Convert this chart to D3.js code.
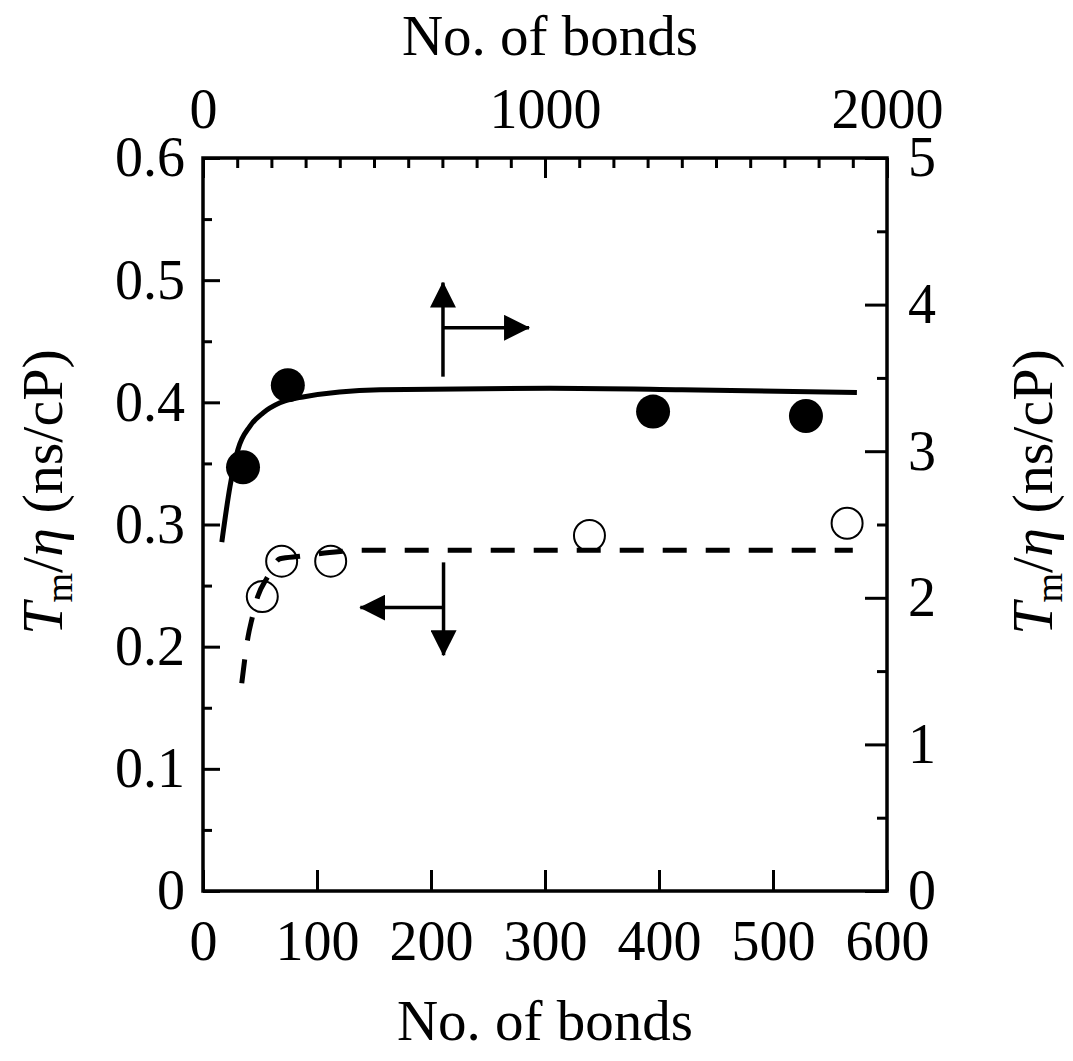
<!DOCTYPE html>
<html>
<head>
<meta charset="utf-8">
<script src="https://cdn.jsdelivr.net/npm/d3@7"></script>
<style>
  body { margin: 0; background: #fff; }
  text { font-family: 'Liberation Serif', 'Times New Roman', serif; fill: #000; }
</style>
</head>
<body>
<svg width="1073" height="1061"></svg>
<script>
// open circles: bottom axis (0-600) vs left axis
const openX = [52, 69, 112, 339, 565]
const openY = [0.241, 0.270, 0.270, 0.291, 0.301]
// filled circles: top axis (0-2000) vs right axis
const fillX = [117, 248, 1316, 1763]
const fillY = [2.89, 3.45, 3.27, 3.24]
// fitted curves
const solidX = [55, 79, 102, 137, 175, 225, 292, 518, 1015, 1400, 1912]
const solidY = [2.38, 2.76, 3.01, 3.17, 3.26, 3.33, 3.37, 3.42, 3.43, 3.42, 3.40]
const dashX = [34, 39.5, 43, 48, 56, 67.5, 85, 111, 139, 350, 570]
const dashY = [0.170, 0.208, 0.223, 0.241, 0.256, 0.272, 0.274, 0.277, 0.279, 0.279, 0.279]

const bottomTicks = [0, 100, 200, 300, 400, 500, 600]
const topTicks = [0, 1000, 2000]
const leftTicks = [0, 0.1, 0.2, 0.3, 0.4, 0.5, 0.6]
const rightTicks = [0, 1, 2, 3, 4, 5]

const svg = d3.select('svg')
const margin = {top: 158, right: 186, bottom: 170, left: 203}
const width = +svg.attr('width') - margin.left - margin.right
const height = +svg.attr('height') - margin.top - margin.bottom
const g = svg.append('g').attr('transform', `translate(${margin.left},${margin.top})`)

const xB = d3.scaleLinear().domain([0, 600]).range([0, width])
const xT = d3.scaleLinear().domain([0, 2000]).range([0, width])
const yL = d3.scaleLinear().domain([0, 0.6]).range([height, 0])
const yR = d3.scaleLinear().domain([0, 5]).range([height, 0])

const fs = 56

function style(sel) {
  sel.select('.domain').remove()
  sel.selectAll('line').attr('stroke', '#000').attr('stroke-width', 3)
  sel.selectAll('text').style('font-size', fs + 'px').attr('fill', '#000')
}

// minor ticks
g.append('g').call(d3.axisLeft(yL).tickValues(d3.range(0.05, 0.6, 0.1)).tickSize(-9).tickFormat('')).call(style)
g.append('g').attr('transform', `translate(${width},0)`)
  .call(d3.axisRight(yR).tickValues(d3.range(0.5, 5, 1)).tickSize(-10).tickFormat('')).call(style)
g.append('g').call(d3.axisTop(xT).tickValues(d3.range(100, 2000, 100).filter(d => d !== 1000)).tickSize(-10).tickFormat('')).call(style)

// major ticks
g.append('g').attr('transform', `translate(0,${height})`)
  .call(d3.axisBottom(xB).tickValues(bottomTicks).tickSize(-21).tickPadding(29).tickFormat(d3.format('d'))).call(style)
g.append('g')
  .call(d3.axisTop(xT).tickValues(topTicks).tickSize(-20).tickPadding(30).tickFormat(d3.format('d'))).call(style)
g.append('g')
  .call(d3.axisLeft(yL).tickValues(leftTicks).tickSize(-17).tickPadding(18).tickFormat(d => d === 0 ? '0' : d3.format('.1f')(d))).call(style)
g.append('g').attr('transform', `translate(${width},0)`)
  .call(d3.axisRight(yR).tickValues(rightTicks).tickSize(-22).tickPadding(21).tickFormat(d3.format('d'))).call(style)

g.append('rect').attr('width', width).attr('height', height)
  .attr('fill', 'none').attr('stroke', '#000').attr('stroke-width', 3.5)

// curves
const solid = solidX.map((x, i) => [x, solidY[i]])
const dashed = dashX.map((x, i) => [x, dashY[i]])

g.append('path').datum(solid)
  .attr('fill', 'none').attr('stroke', '#000').attr('stroke-width', 5)
  .attr('d', d3.line().x(d => xT(d[0])).y(d => yR(d[1])).curve(d3.curveMonotoneX))

g.append('path').datum(dashed)
  .attr('fill', 'none').attr('stroke', '#000').attr('stroke-width', 5)
  .attr('stroke-dasharray', '24,19')
  .attr('d', d3.line().x(d => xB(d[0])).y(d => yL(d[1])).curve(d3.curveMonotoneX))

// markers
g.selectAll('.open').data(openX).join('circle')
  .attr('cx', d => xB(d)).attr('cy', (d, i) => yL(openY[i])).attr('r', 15.5)
  .attr('fill', 'none').attr('stroke', '#000').attr('stroke-width', 2)

g.selectAll('.filled').data(fillX).join('circle')
  .attr('cx', d => xT(d)).attr('cy', (d, i) => yR(fillY[i])).attr('r', 17)
  .attr('fill', '#000')

// arrows (which axis each series belongs to)
svg.append('defs').append('marker')
  .attr('id', 'head').attr('viewBox', '0 0 26 26').attr('refX', 25).attr('refY', 13)
  .attr('markerWidth', 26).attr('markerHeight', 26).attr('markerUnits', 'userSpaceOnUse')
  .attr('orient', 'auto')
  .append('path').attr('d', 'M0,0L26,13L0,26Z').attr('fill', '#000')

const arrows = [
  [[210.5, 0.421], [210.5, 0.498]],
  [[210.5, 0.461], [286, 0.461]],
  [[211, 0.269], [211, 0.193]],
  [[211, 0.232], [138, 0.232]]
]
arrows.forEach(a => {
  g.append('line')
    .attr('x1', xB(a[0][0])).attr('y1', yL(a[0][1]))
    .attr('x2', xB(a[1][0])).attr('y2', yL(a[1][1]))
    .attr('stroke', '#000').attr('stroke-width', 3.5)
    .attr('marker-end', 'url(#head)')
})

// axis titles
svg.append('text').attr('x', 550).attr('y', 55).attr('text-anchor', 'middle')
  .style('font-size', '57px').text('No. of bonds')
svg.append('text').attr('x', 545).attr('y', 1040).attr('text-anchor', 'middle')
  .style('font-size', '57px').text('No. of bonds')

function yTitle(x) {
  const t = svg.append('text')
    .attr('transform', `translate(${x},492) rotate(-90)`)
    .attr('text-anchor', 'middle').style('font-size', '58px')
  t.append('tspan').style('font-style', 'italic').text('T')
  t.append('tspan').attr('dy', 10).style('font-size', '38px').text('m')
  t.append('tspan').attr('dy', -10).text('/')
  t.append('tspan').style('font-style', 'italic').text('η')
  t.append('tspan').text(' (ns/cP)')
}
yTitle(62)
yTitle(1052)
</script>
</body>
</html>
